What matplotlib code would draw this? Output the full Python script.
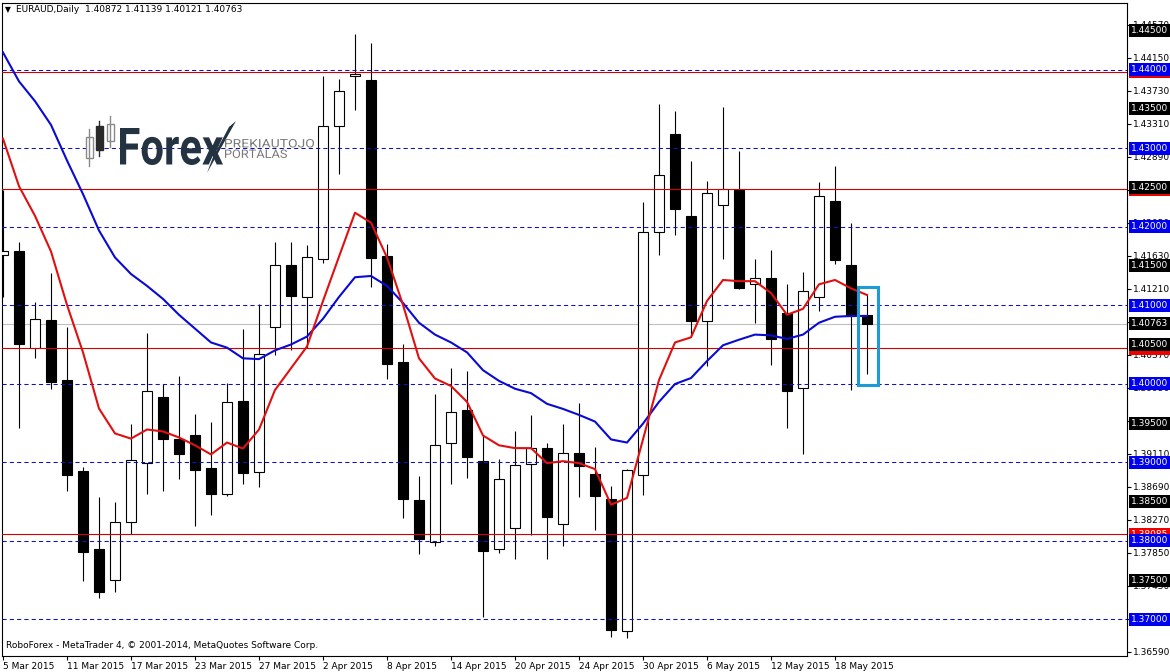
import numpy as np
import matplotlib.pyplot as plt
from matplotlib.patches import Rectangle, PathPatch, Polygon
from matplotlib.lines import Line2D
from matplotlib.transforms import IdentityTransform, Affine2D
from matplotlib.textpath import TextPath
from matplotlib.font_manager import FontProperties

# EURAUD daily candles, 5 Mar 2015 - 20 May 2015
opens = [1.41640, 1.41684, 1.40460, 1.40818, 1.40047, 1.38889, 1.37892, 1.37505, 1.38245, 1.38990,
         1.39836, 1.39302, 1.39342, 1.38925, 1.38597, 1.39785, 1.38874, 1.40722, 1.41518, 1.41105,
         1.41593, 1.43285, 1.43914, 1.43864, 1.41623, 1.40274, 1.38522, 1.37983, 1.39252, 1.39660,
         1.39015, 1.37892, 1.38169, 1.38975, 1.39181, 1.38220, 1.39116, 1.38849, 1.38537, 1.36850,
         1.38839, 1.41936, 1.43179, 1.42132, 1.40793, 1.42273, 1.42464, 1.41266, 1.41351, 1.40903,
         1.39947, 1.41105, 1.42323, 1.41518, 1.40872]
highs = [1.42464, 1.41800, 1.41039, 1.41407, 1.40727, 1.38940, 1.38562, 1.38496, 1.39493, 1.40652,
         1.39997, 1.40098, 1.39619, 1.39519, 1.40007, 1.40702, 1.41014, 1.41800, 1.41800, 1.41769,
         1.43914, 1.43884, 1.44453, 1.44337, 1.41784, 1.40511, 1.38829, 1.39871, 1.40198, 1.40158,
         1.39342, 1.39040, 1.39403, 1.39609, 1.39252, 1.39493, 1.39760, 1.39191, 1.38698, 1.38920,
         1.42313, 1.43557, 1.43471, 1.42832, 1.42585, 1.43522, 1.42968, 1.41593, 1.41699, 1.41266,
         1.41422, 1.42565, 1.42766, 1.42046, 1.41139]
lows = [1.41105, 1.39443, 1.40324, 1.39937, 1.38637, 1.37489, 1.37278, 1.37353, 1.38084, 1.38597,
        1.38637, 1.38789, 1.38184, 1.38335, 1.38572, 1.38728, 1.38688, 1.40360, 1.40425, 1.40450,
        1.41533, 1.42666, 1.43481, 1.41231, 1.40057, 1.38295, 1.37832, 1.37932, 1.38728, 1.38799,
        1.37026, 1.37842, 1.37771, 1.38074, 1.37771, 1.37932, 1.38562, 1.38144, 1.36774, 1.36764,
        1.38587, 1.41644, 1.41895, 1.40601, 1.40224, 1.41593, 1.41200, 1.40777, 1.40239, 1.39433,
        1.39106, 1.40929, 1.41523, 1.39921, 1.40121]
closes = [1.41690, 1.40500, 1.40828, 1.40022, 1.38839, 1.37857, 1.37348, 1.38245, 1.39030, 1.39911,
          1.39302, 1.39101, 1.38899, 1.38597, 1.39770, 1.38864, 1.40385, 1.41518, 1.41120, 1.41608,
          1.43280, 1.43723, 1.43945, 1.41598, 1.40249, 1.38537, 1.38023, 1.39217, 1.39645, 1.39070,
          1.37872, 1.38789, 1.38965, 1.39181, 1.38310, 1.39116, 1.38950, 1.38572, 1.36860, 1.38899,
          1.41936, 1.42651, 1.42228, 1.40803, 1.42424, 1.42474, 1.41216, 1.41351, 1.40566, 1.39911,
          1.41185, 1.42384, 1.41578, 1.40863, 1.40763]

# moving averages as drawn on the chart
ma_fast = [1.43119, 1.42515, 1.42137, 1.41684, 1.41004, 1.40400, 1.39685, 1.39368, 1.39302, 1.39418,
           1.39393, 1.39317, 1.39217, 1.39101, 1.39252, 1.39176, 1.39418, 1.39921, 1.40198, 1.40475,
           1.41054, 1.41618, 1.42177, 1.42051, 1.41608, 1.41004, 1.40324, 1.40067, 1.39972, 1.39770,
           1.39342, 1.39217, 1.39181, 1.39181, 1.38990, 1.39015, 1.38990, 1.38914, 1.38461, 1.38547,
           1.39292, 1.40047, 1.40526, 1.40591, 1.41054, 1.41321, 1.41306, 1.41306, 1.41155, 1.40878,
           1.40954, 1.41266, 1.41321, 1.41215, 1.41130]
ma_slow = [1.44217, 1.43849, 1.43597, 1.43295, 1.42842, 1.42414, 1.41951, 1.41608, 1.41397, 1.41246,
           1.41080, 1.40878, 1.40702, 1.40526, 1.40460, 1.40324, 1.40314, 1.40425, 1.40500, 1.40601,
           1.40828, 1.41105, 1.41356, 1.41372, 1.41246, 1.41029, 1.40777, 1.40626, 1.40526, 1.40400,
           1.40173, 1.40037, 1.39937, 1.39881, 1.39745, 1.39680, 1.39604, 1.39519, 1.39292, 1.39252,
           1.39493, 1.39770, 1.39997, 1.40073, 1.40289, 1.40490, 1.40561, 1.40626, 1.40616, 1.40571,
           1.40626, 1.40777, 1.40853, 1.40863, 1.40863]

date_idx = [0, 4, 8, 12, 16, 20, 24, 28, 32, 36, 40, 44, 48, 52]
date_labels = ['5 Mar 2015', '11 Mar 2015', '17 Mar 2015', '23 Mar 2015', '27 Mar 2015',
               '2 Apr 2015', '8 Apr 2015', '14 Apr 2015', '20 Apr 2015', '24 Apr 2015',
               '30 Apr 2015', '6 May 2015', '12 May 2015', '18 May 2015']

price_ticks = [1.36590, 1.37010, 1.37430, 1.37850, 1.38270, 1.38690, 1.39110, 1.39530, 1.39950,
               1.40370, 1.40790, 1.41210, 1.41630, 1.42050, 1.42470, 1.42890, 1.43310, 1.43730,
               1.44150, 1.44570]

dash_levels = [1.37, 1.38, 1.39, 1.40, 1.41, 1.42, 1.43, 1.44]
red_levels = [1.43970, 1.42474, 1.40454, 1.38085]
black_levels = [1.445, 1.435, 1.425, 1.415, 1.405, 1.395, 1.385, 1.375]
last_price = 1.40763

box_bars = (53.42, 54.71)
box_prices = (1.39987, 1.41231)

W, H = 1170, 672
fig = plt.figure(figsize=(W / 100, H / 100), dpi=100)
fig.patch.set_facecolor('white')
ax = fig.add_axes([2 / W, 1 - 656 / H, 1125 / W, 653 / H])

x = np.arange(len(opens))
o = np.array(opens)
c = np.array(closes)
up = c >= o

ax.set_xlim(-1 / 16, 1124 / 16)
ax.set_ylim(1.365353, 1.448464)

# levels
for lv in dash_levels:
    ax.axhline(lv, color='#1010c0', lw=0.75, ls=(0, (4, 3)), zorder=4.5)
for lv in red_levels:
    ax.axhline(lv, color='#d40000', lw=0.8, zorder=4.5)
ax.axhline(last_price, color='#c0c0c0', lw=0.8, zorder=1)

# candles
ax.vlines(x, lows, highs, color='black', lw=0.8, zorder=3)
ax.bar(x, np.maximum(np.abs(c - o), 0.00003), bottom=np.minimum(o, c), width=0.64,
       color=np.where(up, 'white', 'black'), edgecolor='black', linewidth=0.8, zorder=4)

ax.plot(x, ma_slow, color='#0a0ad2', lw=1.5, zorder=5)
ax.plot(x, ma_fast, color='#e01010', lw=1.5, zorder=6)

ax.add_patch(Rectangle((box_bars[0], box_prices[0]), box_bars[1] - box_bars[0],
                       box_prices[1] - box_prices[0], fill=False, ec='#1e9ad8', lw=2.2, zorder=7))

# axes
ax.yaxis.tick_right()
ax.set_yticks(price_ticks)
ax.set_yticklabels(['%.5f' % v for v in price_ticks])
ax.tick_params(axis='y', length=3, width=0.8, pad=1.5, labelsize=6.5)
ax.set_xticks(date_idx)
ax.set_xticklabels(date_labels)
for lab in ax.get_xticklabels():
    lab.set_horizontalalignment('left')
ax.tick_params(axis='x', length=3, width=0.8, pad=1.5, labelsize=6.5)
for sp in ax.spines.values():
    sp.set_linewidth(0.8)


def price_label(v, bg):
    ax.text(1 + 4 / 1125, v, '%.5f' % v, transform=ax.get_yaxis_transform(), ha='left',
            va='center', fontsize=6.5, color='white', clip_on=False, zorder=10,
            bbox=dict(boxstyle='square,pad=0.22', fc=bg, ec='none'))


for lv in red_levels:
    price_label(lv, '#ee0000')
for lv in black_levels:
    price_label(lv, 'black')
for lv in dash_levels:
    price_label(lv, '#0000f0')
price_label(last_price, 'black')

# header / footer
fig.text(5 / W, 1 - 10 / H, '\u25bc', fontsize=5.5, va='center')
fig.text(16 / W, 1 - 10 / H, 'EURAUD,Daily  1.40872 1.41139 1.40121 1.40763', fontsize=6.5, va='center')
fig.text(6 / W, 1 - 646 / H, 'RoboForex - MetaTrader 4, \u00a9 2001-2014, MetaQuotes Software Corp.',
         fontsize=6.5, va='center')

# watermark logo (pixel positions, y measured from the top)
ident = IdentityTransform()


def fit_text(s, x0, x1, ytop, ybot, color, weight):
    tp = TextPath((0, 0), s, size=50, prop=FontProperties(family='Roboto', weight=weight))
    ext = tp.get_extents()
    tr = (Affine2D().translate(-ext.x0, -ext.y0)
          .scale((x1 - x0) / ext.width, (ybot - ytop) / ext.height)
          .translate(x0, H - ybot))
    fig.add_artist(PathPatch(tr.transform_path(tp), fc=color, ec='none', transform=ident))


for cx, top, bot, wt, wb, fc, ec in [(89, 137, 158, 129, 166, 'white', '#8a8a8a'),
                                     (99, 126, 150, 121, 156, '#2a2a2a', '#2a2a2a'),
                                     (110, 124, 141, 116, 147, 'white', '#8a8a8a')]:
    fig.add_artist(Line2D([cx, cx], [H - wt, H - wb], color=ec, lw=1, transform=ident))
    fig.add_artist(Rectangle((cx - 3.5, H - bot), 7, bot - top, fc=fc, ec=ec, lw=1, transform=ident))
fit_text('Forex', 120, 223, 128, 165, '#243341', 'bold')
fig.add_artist(Polygon([(207, H - 173), (236, H - 121), (229, H - 127), (213, H - 157)],
                       closed=True, fc='#243341', ec='none', transform=ident))
fit_text('PREKIAUTOJO', 225, 314, 139, 147.5, '#7a7a7a', 'normal')
fit_text('PORTALAS', 225, 287, 149.5, 158, '#7a7a7a', 'normal')

fig.savefig('out.png', dpi=100)
